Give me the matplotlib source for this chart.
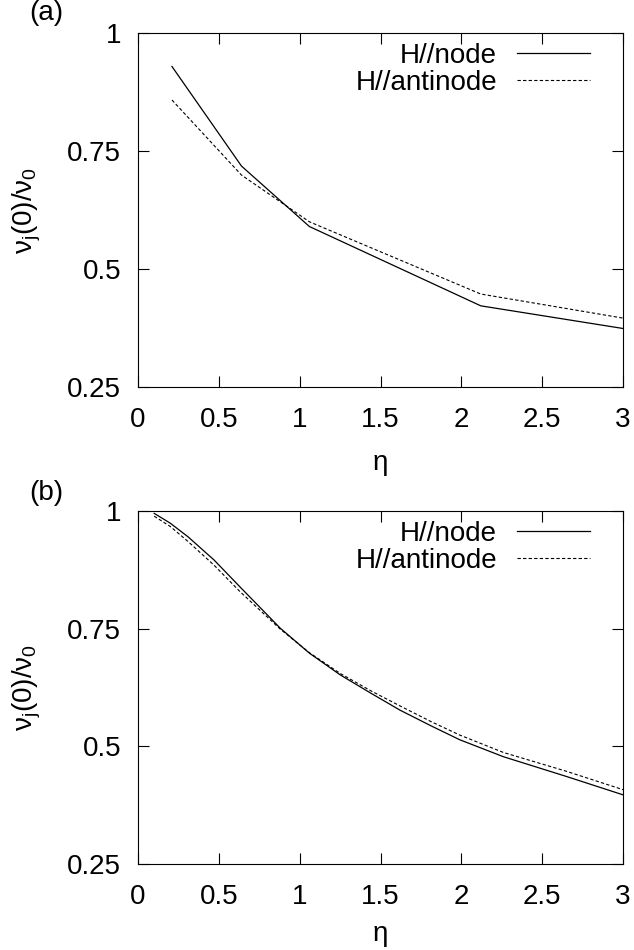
import matplotlib
matplotlib.use("Agg")
import matplotlib.pyplot as plt

# panel (a): coarse grid
eta_a = [0.21, 0.64, 1.06, 2.12, 3.0]
node_a = [0.929, 0.718, 0.590, 0.422, 0.374]
anti_a = [0.858, 0.699, 0.600, 0.447, 0.396]

# panel (b): fine grid
eta_b = [0.1, 0.2, 0.31, 0.47, 0.63, 0.88, 1.06, 1.25, 1.44, 1.62, 1.81, 1.99, 2.26, 2.65, 3.0]
node_b = [0.995, 0.974, 0.945, 0.896, 0.839, 0.751, 0.698, 0.652, 0.613, 0.577, 0.544, 0.514,
          0.478, 0.436, 0.397]
anti_b = [0.989, 0.967, 0.935, 0.885, 0.829, 0.749, 0.699, 0.655, 0.618, 0.586, 0.553, 0.524,
          0.487, 0.447, 0.408]

xticks = [0, 0.5, 1, 1.5, 2, 2.5, 3]
xticklabels = ["0", "0.5", "1", "1.5", "2", "2.5", "3"]
yticks = [0.25, 0.5, 0.75, 1]
yticklabels = ["0.25", "0.5", "0.75", "1"]

plt.rcParams["font.family"] = ["Liberation Sans", "DejaVu Sans"]
plt.rcParams["mathtext.fontset"] = "custom"
plt.rcParams["mathtext.rm"] = "Liberation Sans"
plt.rcParams["mathtext.it"] = "Liberation Sans"
plt.rcParams["mathtext.default"] = "regular"

fs = 20

fig = plt.figure(figsize=(6.34, 9.5), dpi=100)
ax_a = fig.add_axes([0.2177, 0.5926, 0.765, 0.3727])
ax_b = fig.add_axes([0.2177, 0.0905, 0.765, 0.3716])

panels = [(ax_a, eta_a, node_a, anti_a, "(a)", 0.986, 12),
          (ax_b, eta_b, node_b, anti_b, "(b)", 0.481, 8)]
for ax, x, yn, ya, tag, ty, lp in panels:
    ax.plot(x, yn, color="black", linewidth=0.9, label="H//node")
    ax.plot(x, ya, color="black", linewidth=0.8, linestyle=(0, (3, 2)), label="H//antinode")
    ax.set_xlim(0, 3)
    ax.set_ylim(0.25, 1)
    ax.set_xticks(xticks)
    ax.set_xticklabels(xticklabels)
    ax.set_yticks(yticks)
    ax.set_yticklabels(yticklabels)
    ax.tick_params(direction="in", length=8, width=0.8, top=True, right=True, labelsize=fs)
    ax.tick_params(axis="x", pad=14.5)
    ax.tick_params(axis="y", pad=12)
    for s in ax.spines.values():
        s.set_linewidth(0.8)
    ax.set_xlabel("η", fontsize=fs, labelpad=lp)
    ax.set_ylabel(r"$\nu_j(0)/\nu_0$", fontsize=fs)
    ax.yaxis.set_label_coords(-0.195, 0.5)
    ax.legend(loc="upper right", bbox_to_anchor=(0.932, 0.973), frameon=False, markerfirst=False,
              fontsize=fs, handlelength=2.63, handletextpad=0.72, labelspacing=0.05,
              borderaxespad=0, borderpad=0)
    fig.text(0.0726, ty, tag, fontsize=fs, ha="center", va="center")

fig.savefig("out.png", dpi=100)
